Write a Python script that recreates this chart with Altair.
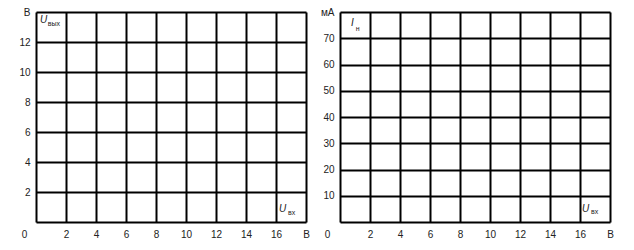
import altair as alt
import pandas as pd

# ---- data ----
x_ticks = [0, 2, 4, 6, 8, 10, 12, 14, 16, 18]
left_y_ticks = [0, 2, 4, 6, 8, 10, 12, 14]
right_y_ticks = [0, 10, 20, 30, 40, 50, 60, 70, 80]

left_notes_text = ["U", "вых", "U", "вх"]
left_notes_x = [0.27, 0.78, 16.2, 16.8]
left_notes_y = [13.45, 13.2, 0.85, 0.6]
left_notes_kind = ["main", "sub", "main", "sub"]

right_notes_text = ["I", "н", "U", "вх"]
right_notes_x = [0.73, 1.05, 16.13, 16.73]
right_notes_y = [75.8, 73.4, 4.8, 3.9]
right_notes_kind = ["main", "sub", "main", "sub"]

FONT = "Liberation Sans"
LABEL_COLOR = "#222222"

left_df = pd.DataFrame({"x": left_notes_x, "y": left_notes_y,
                        "t": left_notes_text, "k": left_notes_kind})
right_df = pd.DataFrame({"x": right_notes_x, "y": right_notes_y,
                         "t": right_notes_text, "k": right_notes_kind})


def x_axis(zero_offset):
    return alt.Axis(
        values=x_ticks, grid=True, gridColor="black", gridWidth=2,
        domain=False, ticks=False, title=None,
        labelExpr="datum.value == 18 ? 'В' : datum.label",
        labelFont=FONT, labelFontSize=10, labelColor=LABEL_COLOR,
        labelPadding=7, labelFlush=False, labelOverlap=False,
        labelOffset={"condition": {"test": "datum.value == 0", "value": zero_offset},
                     "value": 0},
    )


def panel(df, y_ticks, y_top, top_label, zero_offset):
    x = alt.X("x:Q", scale=alt.Scale(domain=[0, 18], nice=False, zero=False),
              axis=x_axis(zero_offset))
    y = alt.Y("y:Q", scale=alt.Scale(domain=[0, y_top], nice=False, zero=False),
              axis=alt.Axis(
                  values=y_ticks, grid=True, gridColor="black", gridWidth=2,
                  domain=False, ticks=False, title=None,
                  labelExpr=f"datum.value == 0 ? '' : (datum.value == {y_top} ? '{top_label}' : datum.label)",
                  labelFont=FONT, labelFontSize=10, labelColor=LABEL_COLOR,
                  labelPadding=6, labelFlush=False, labelOverlap=False,
              ))
    base = alt.Chart(df).encode(x=x, y=y, text="t:N")
    main = base.transform_filter(alt.datum.k == "main").mark_text(
        font=FONT, fontSize=10, fontStyle="italic", align="left",
        baseline="middle", color="#222222")
    sub = base.transform_filter(alt.datum.k == "sub").mark_text(
        font=FONT, fontSize=7, align="left", baseline="middle",
        color="#222222")
    return alt.layer(main, sub).properties(width=270, height=210)


left = panel(left_df, left_y_ticks, 14, "В", -12)
right = panel(right_df, right_y_ticks, 80, "мА", -13)

chart = alt.hconcat(left, right, spacing=34, bounds="flush").properties(
    padding={"left": 18, "top": 6, "right": 0, "bottom": 0}
).configure_view(stroke=None).configure(background="white")

chart.save("out.html", embed_options={"renderer": "svg", "actions": False})
